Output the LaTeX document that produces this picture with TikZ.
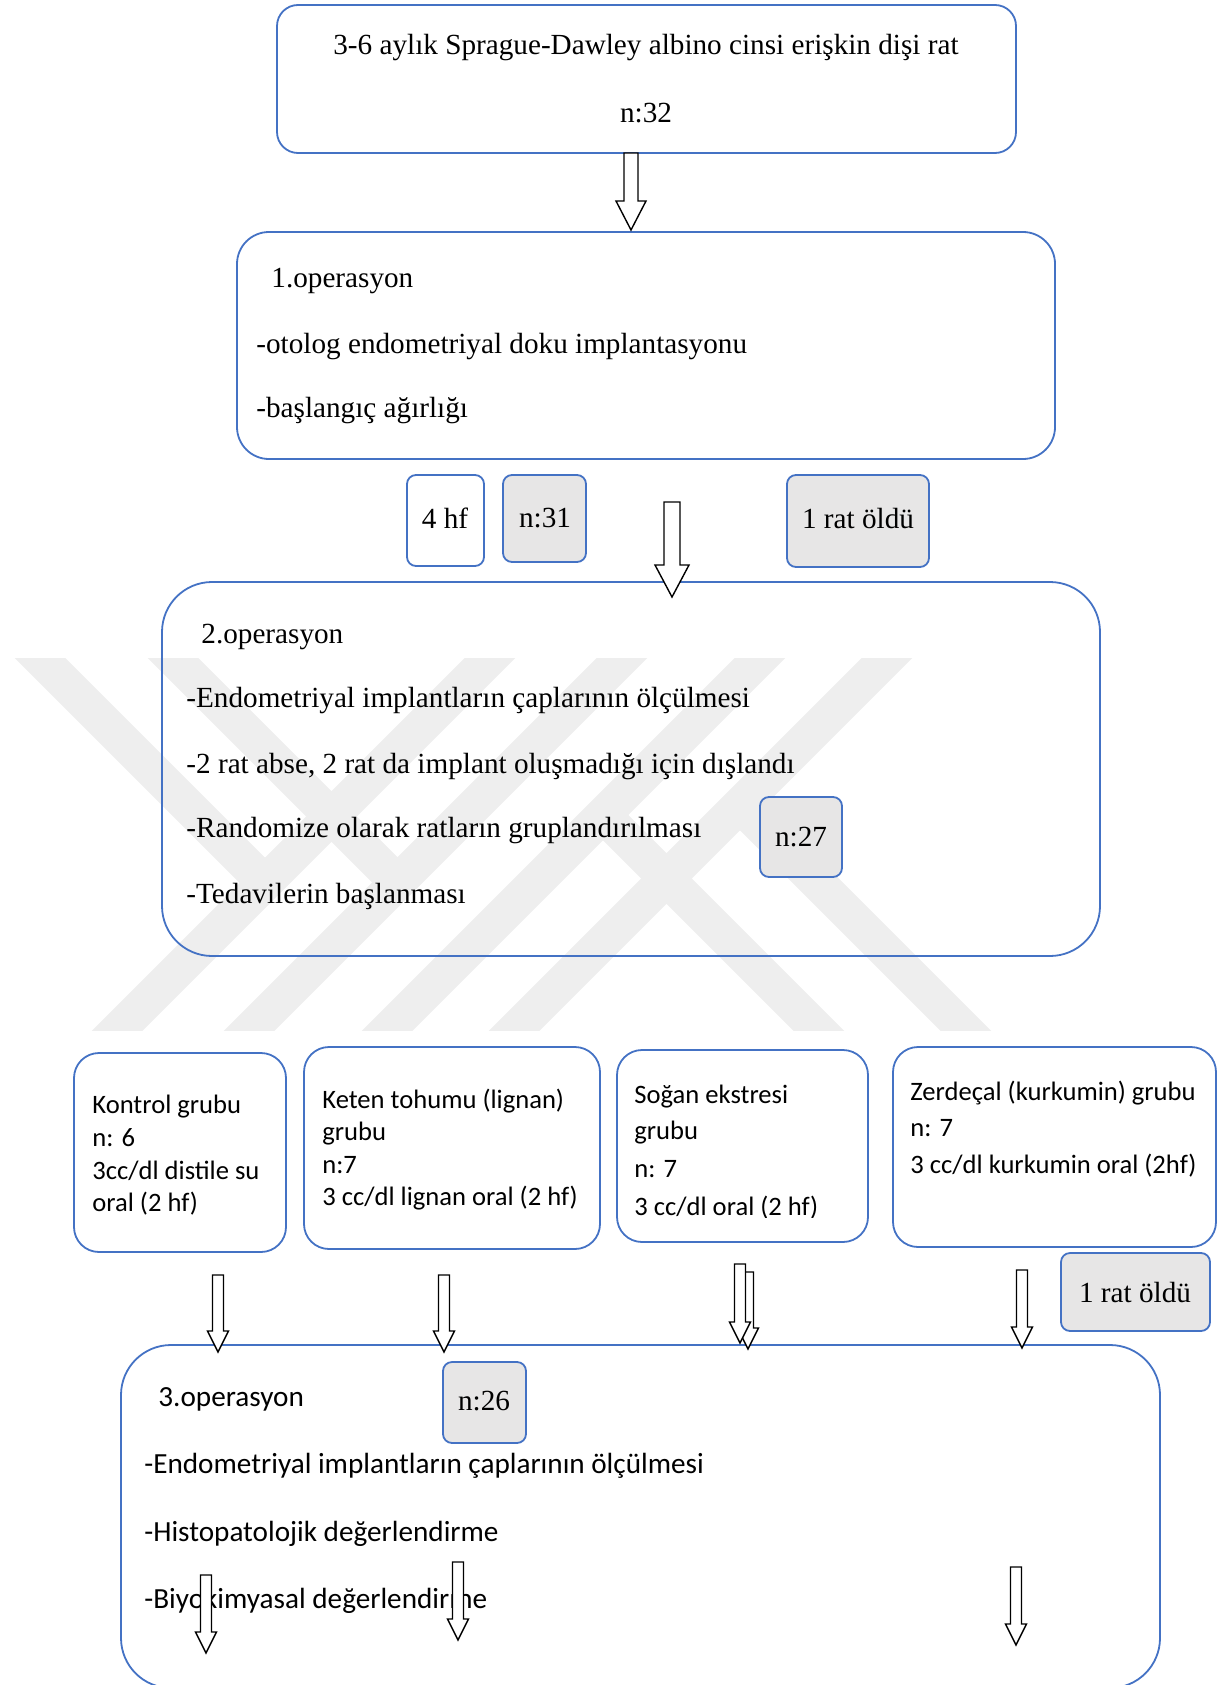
\documentclass[tikz,border=0pt]{standalone}
\usepackage{fontspec}
\setmainfont{Liberation Serif}
\newfontfamily\calibri{Carlito}
\usetikzlibrary{calc,fit}
\definecolor{boxblue}{HTML}{4472C4}
\definecolor{boxgray}{HTML}{E7E6E6}
\definecolor{wmgray}{HTML}{EEEEEE}
\tikzset{
  opbox/.style={draw=boxblue, line width=0.9pt, rounded corners=#1, inner sep=0pt},
  tagbox/.style={opbox=4.5pt, fill=boxgray},
  serif/.style={inner sep=0pt, font=\fontsize{14.6}{17}\selectfont},
  sans/.style={inner sep=0pt, font={\calibri\fontsize{14.6}{17}\selectfont}},
  grp/.style={inner sep=0pt, font={\calibri\fontsize{13.3}{16}\selectfont}},
  wmband/.style={wmgray, line width=18pt},
  fatarrow/.style n args={3}{draw=black, fill=white, line width=0.7pt,
    to path={let \p1=(\tikztostart), \p2=(\tikztotarget) in
      (\x1-#1,\y1) -- (\x1+#1,\y1) -- (\x1+#1,\y2+#3) -- (\x1+#2,\y2+#3)
      -- (\x1,\y2) -- (\x1-#2,\y2+#3) -- (\x1-#1,\y2+#3) -- cycle}},
  bigarrow/.style={fatarrow={3.5pt}{7.5pt}{14.5pt}},
  smallarrow/.style={fatarrow={2.75pt}{5.25pt}{10.5pt}},
}
\begin{document}
\begin{tikzpicture}[x=0.5pt, y=-0.5pt]
  \useasboundingbox (0,0) rectangle (1227,1685);
  % watermark behind box 2
  \begin{scope}
    \clip (0,658) rectangle (1227,1030);
    \draw[wmband] (68,1080) -- (540,608);  \draw[wmband] (-10,608) -- (265,883);
    \draw[wmband] (200,1080) -- (672,608); \draw[wmband] (123,608) -- (398,883);
    \draw[wmband] (338,1080) -- (810,608); \draw[wmband] (603,815) -- (868,1080);
    \draw[wmband] (465,1080) -- (937,608); \draw[wmband] (740,805) -- (1015,1080);
  \end{scope}

  % start
  \node[opbox=10.5pt, fit={(277,5) (1016,153)}] (start) {};
  \node[serif, anchor=base] (startA) at (646,55) {3-6 aylık Sprague-Dawley albino cinsi erişkin dişi rat};
  \node[serif, anchor=base] (startB) at (646,123) {n:32};

  % 1. operasyon
  \node[opbox=16pt, fit={(237,232) (1055,459)}] (op1) {};
  \node[serif, anchor=base west] (op1a) at (271,287) {1.operasyon};
  \node[serif, anchor=base west] (op1b) at (256,353) {-otolog endometriyal doku implantasyonu};
  \node[serif, anchor=base west] (op1c) at (256,417) {-başlangıç ağırlığı};

  \node[opbox=4.5pt, fit={(407,475) (484,566)}] (hf) {};
  \node[serif, anchor=base] at (445,528) {4 hf};
  \node[tagbox, fit={(503,475) (586,562)}] (n31) {};
  \node[serif, anchor=base] at (545,527) {n:31};
  \node[tagbox, fit={(787,475) (929,567)}] (dead1) {};
  \node[serif, anchor=base] at (858,528) {1 rat öldü};

  % 2. operasyon
  \node[opbox=25pt, fit={(162,582) (1100,956)}] (op2) {};
  \node[serif, anchor=base west] (op2a) at (201,643) {2.operasyon};
  \node[serif, anchor=base west] (op2b) at (186,707) {-Endometriyal implantların çaplarının ölçülmesi};
  \node[serif, anchor=base west] (op2c) at (186,773) {-2 rat abse, 2 rat da implant oluşmadığı için dışlandı};
  \node[serif, anchor=base west] (op2d) at (186,837) {-Randomize olarak ratların gruplandırılması};
  \node[serif, anchor=base west] (op2e) at (186,903) {-Tedavilerin başlanması};
  \node[tagbox, fit={(760,797) (842,877)}] (n27) {};
  \node[serif, anchor=base] at (801,846) {n:27};

  % groups
  \node[opbox=12.5pt, fit={(74,1053) (286,1252)}] (kontrol) {};
  \node[grp, anchor=base west] at (92,1113) {Kontrol grubu};
  \node[grp, anchor=base west] at (92,1146) {n: 6};
  \node[grp, anchor=base west] at (92,1179) {3cc/dl distile su};
  \node[grp, anchor=base west] at (92,1211) {oral (2 hf)};

  \node[opbox=12.5pt, fit={(304,1047) (600,1249)}] (keten) {};
  \node[grp, anchor=base west] at (322,1108) {Keten tohumu (lignan)};
  \node[grp, anchor=base west] at (322,1140) {grubu};
  \node[grp, anchor=base west] at (322,1173) {n:7};
  \node[grp, anchor=base west] at (322,1205) {3 cc/dl lignan oral (2 hf)};

  \node[opbox=12.5pt, fit={(617,1050) (868,1242)}] (sogan) {};
  \node[grp, anchor=base west] at (634,1103) {Soğan ekstresi};
  \node[grp, anchor=base west] at (634,1139) {grubu};
  \node[grp, anchor=base west] at (634,1177) {n: 7};
  \begin{scope}
    \clip (617,1150) rectangle (868,1217);
    \node[grp, anchor=base west] at (634,1215) {3 cc/dl oral (2 hf)};
  \end{scope}

  \node[opbox=12.5pt, fit={(893,1047) (1216,1247)}] (zerdecal) {};
  \node[grp, anchor=base west] at (910,1100) {Zerdeçal (kurkumin) grubu};
  \node[grp, anchor=base west] at (910,1136) {n: 7};
  \node[grp, anchor=base west] at (910,1173) {3 cc/dl kurkumin oral (2hf)};

  \node[tagbox, fit={(1061,1253) (1210,1331)}] (dead2) {};
  \node[serif, anchor=base] at (1135,1302) {1 rat öldü};

  % 3. operasyon
  \node[opbox=25pt, fit={(121,1345) (1160,1688)}] (op3) {};
  \node[sans, anchor=base west] (op3a) at (158,1406) {3.operasyon};
  \node[sans, anchor=base west] (op3b) at (144,1473) {-Endometriyal implantların çaplarının ölçülmesi};
  \node[sans, anchor=base west] (op3c) at (144,1541) {-Histopatolojik değerlendirme};
  \node[sans, anchor=base west] (op3d) at (144,1608) {-Biyokimyasal değerlendirme};
  \node[tagbox, fit={(443,1362) (526,1443)}] (n26) {};
  \node[serif, anchor=base] at (484,1410) {n:26};

  % block arrows
  \coordinate (s1) at (631,153);  \coordinate (e1) at (631,230);
  \coordinate (s2) at (672,502);  \coordinate (e2) at (672,597);
  \draw[bigarrow] (s1) to (e1);
  \draw[fatarrow={4pt}{8.5pt}{16pt}] (s2) to (e2);
  \foreach \nm/\xx/\ya/\yb in {g1/218/1275/1352, g2/444/1275/1352, g3b/748/1272/1349,
      g3a/740/1264/1343, g4/1022/1270/1348, b1/206/1575/1653, b2/458/1562/1640, b3/1016/1567/1645} {
    \coordinate (\nm-s) at (\xx,\ya); \coordinate (\nm-e) at (\xx,\yb);
    \draw[smallarrow] (\nm-s) to (\nm-e);
  }
\end{tikzpicture}
\end{document}
